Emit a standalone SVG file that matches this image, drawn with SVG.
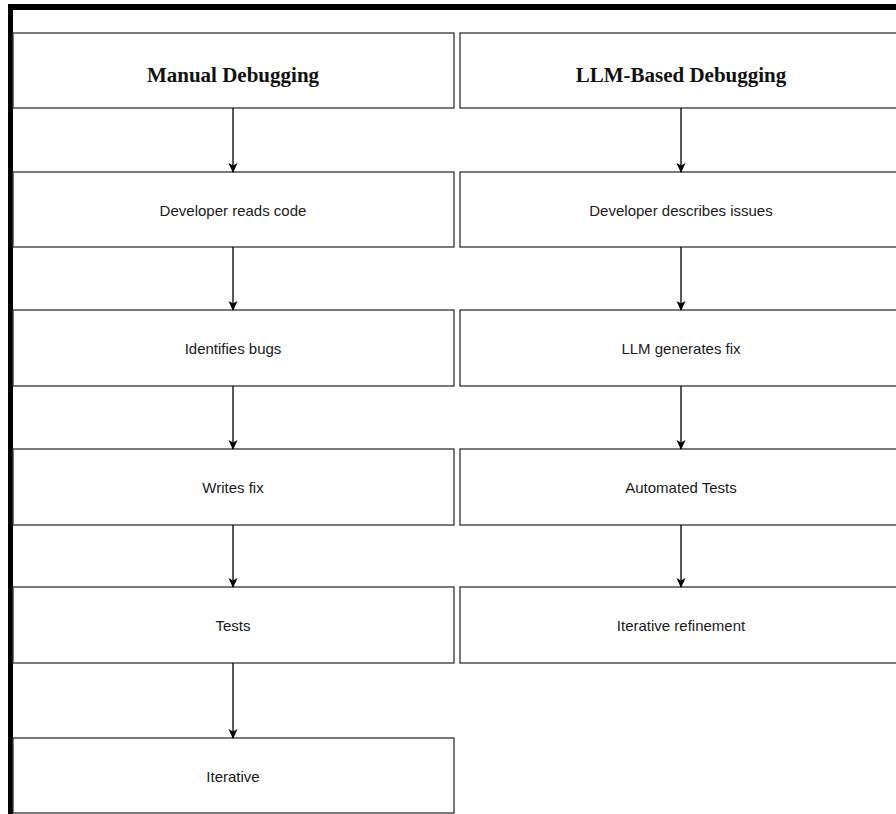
<svg xmlns="http://www.w3.org/2000/svg" width="896" height="814" viewBox="0 0 896 814">
  <style>
    .box { fill: #ffffff; stroke: #333333; stroke-width: 1.3; }
    .title { font-family: "Liberation Serif", "Times New Roman", serif; font-weight: bold; font-size: 21px; fill: #111111; text-anchor: middle; }
    .label { font-family: "Liberation Sans", Arial, Helvetica, sans-serif; font-size: 15px; fill: #1a1a1a; text-anchor: middle; }
    .edge { stroke: #000000; stroke-width: 1.3; fill: none; marker-end: url(#arrow); }
    .frame { fill: #000000; }
  </style>
  <defs>
    <marker id="arrow" viewBox="0 0 10 10" refX="9" refY="5" markerWidth="10" markerHeight="10" markerUnits="userSpaceOnUse" orient="auto">
      <path d="M0,0.5 L10,5 L0,9.5 L2.5,5 Z" fill="#000000"/>
    </marker>
  </defs>

  <rect width="896" height="814" fill="#ffffff"/>

  <!-- outer frame: thick top and left edges -->
  <rect class="frame" x="8" y="4" width="888" height="6"/>
  <rect class="frame" x="8" y="4" width="5" height="810"/>

  <!-- Manual Debugging column -->
  <g id="manual-header"><rect class="box" x="13" y="33" width="441" height="75"/><text class="title" x="233" y="82">Manual Debugging</text></g>
  <g id="manual-read"><rect class="box" x="13" y="172" width="441" height="75"/><text class="label" x="233" y="216">Developer reads code</text></g>
  <g id="manual-identify"><rect class="box" x="13" y="310" width="441" height="76"/><text class="label" x="233" y="354">Identifies bugs</text></g>
  <g id="manual-fix"><rect class="box" x="13" y="449" width="441" height="76"/><text class="label" x="233" y="493">Writes fix</text></g>
  <g id="manual-tests"><rect class="box" x="13" y="587" width="441" height="76"/><text class="label" x="233" y="631">Tests</text></g>
  <g id="manual-iterative"><rect class="box" x="13" y="738" width="441" height="75"/><text class="label" x="233" y="782">Iterative</text></g>

  <!-- LLM-Based Debugging column -->
  <g id="llm-header"><rect class="box" x="460" y="33" width="442" height="75"/><text class="title" x="681" y="82">LLM-Based Debugging</text></g>
  <g id="llm-describe"><rect class="box" x="460" y="172" width="442" height="75"/><text class="label" x="681" y="216">Developer describes issues</text></g>
  <g id="llm-generate"><rect class="box" x="460" y="310" width="442" height="76"/><text class="label" x="681" y="354">LLM generates fix</text></g>
  <g id="llm-tests"><rect class="box" x="460" y="449" width="442" height="76"/><text class="label" x="681" y="493">Automated Tests</text></g>
  <g id="llm-refine"><rect class="box" x="460" y="587" width="442" height="76"/><text class="label" x="681" y="631">Iterative refinement</text></g>

  <!-- connectors -->
  <g id="connectors">
    <line class="edge" x1="233" y1="108" x2="233" y2="172"/>
    <line class="edge" x1="233" y1="247" x2="233" y2="310"/>
    <line class="edge" x1="233" y1="386" x2="233" y2="449"/>
    <line class="edge" x1="233" y1="525" x2="233" y2="587"/>
    <line class="edge" x1="233" y1="663" x2="233" y2="738"/>
    <line class="edge" x1="681" y1="108" x2="681" y2="172"/>
    <line class="edge" x1="681" y1="247" x2="681" y2="310"/>
    <line class="edge" x1="681" y1="386" x2="681" y2="449"/>
    <line class="edge" x1="681" y1="525" x2="681" y2="587"/>
  </g>
</svg>
